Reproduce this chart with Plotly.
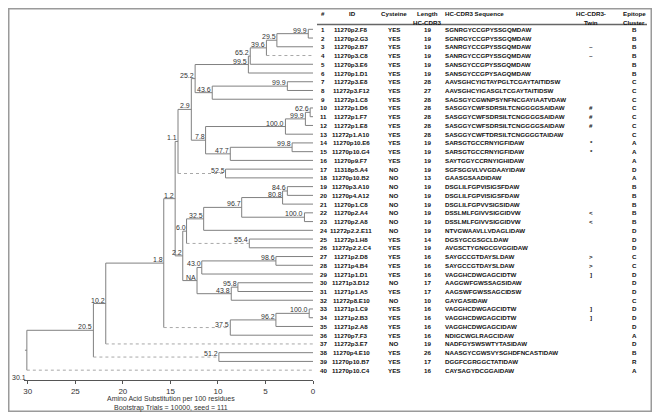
import plotly.graph_objects as go

# ---------------- data ----------------
row_ids = ["11270p2.F8", "11270p2.G3", "11270p2.B7", "11270p3.C8", "11270p3.E6", "11270p1.D1",
           "11272p3.E8", "11272p3.F12", "11272p1.C8", "11272p1.D6", "11272p1.F7", "11272p1.E8",
           "11272p1.A10", "11270p10.E6", "11270p10.G4", "11270p9.F7", "11318p5.A4", "11270p10.B2",
           "11270p3.A10", "11270p4.A12", "11270p1.C8", "11270p2.A4", "11270p2.A8", "11272p2.2.E11",
           "11272p1.H8", "11272p2.2.C4", "11271p2.D8", "11271p4.B4", "11271p1.D1", "11271p3.D12",
           "11271p1.A5", "11272p8.E10", "11271p1.C9", "11271p2.B3", "11271p2.A8", "11270p7.F3",
           "11272p3.E7", "11270p4.E10", "11270p10.B7", "11270p10.C4"]
cysteine = ["YES"] * 16 + ["NO"] * 8 + ["YES"] * 5 + ["NO", "YES", "NO"] + ["YES"] * 4 + ["NO"] + ["YES"] * 3
lengths = [19, 19, 19, 19, 19, 19, 28, 27, 28, 28, 28, 28, 28, 19, 19, 19, 19, 13, 19, 19,
           19, 19, 19, 19, 14, 19, 16, 16, 16, 17, 17, 10, 16, 16, 16, 16, 19, 26, 17, 16]
sequences = ["SGNRGYCCGPYSSGQMDAW", "SGNRGYCCGPYSSGQMDAW", "SANRGYCCGPYSSGQMDAW",
             "SANRGYCCGPYSSGQMDAW", "SANSGYCCGPYSSGQMDAW", "SANSGYCCGPYSAGQMDAW",
             "AAVSGHCYIGTAYPGLTCGAYTAITIDSW", "AAVSGHCYIGASGLTCGAYTAITIDSW",
             "SAGSGYCGWNPSYNFNCGAYIAATVDAW", "SASGGYCWFSDRSILTCNGGGGSAIDAW",
             "SASGGYCWFSDRSILTCNGGGGSAIDAW", "SASGGYCWFSDRSILTCNGGGGSAIDAW",
             "SASGGYCWFTDRSILTCNGGGGTAIDAW", "SARSGTGCCRNYIGFIDAW", "SARSGTGCCRNYIGFIDAW",
             "SAYTGGYCCRNYIGHIDAW", "SGFSGGVLVVGDAAYIDAW", "GAASGSAADIDAW",
             "DSGLILFGPVISIGSFDAW", "DSGLILFGPVISIGSFDAW", "DSGLILFGPVVSIGSIDAW",
             "DSSLMLFGIVVSIGGIDVW", "DSSLMLFGIVVSIGGIDVW", "NTVGWAAVLLVDAGLIDAW",
             "DGSYGCGSGCLDAW", "AVGSCTYGNGCGVGGIDAW", "SAYGCCGTDAYSLDAW", "SAYGCCGTDAYSLDAW",
             "VAGGHCDWGAGCIDTW", "AAGGWFGWSSAGSIDAW", "AAGSWFGWSSAGCIDSW", "GAYGASIDAW",
             "VAGGHCDWGAGCIDTW", "VAGGHCDWGAGCIDTW", "VAGGHCDWGAGCIDAW", "NDIGCWGLRAGCIDAW",
             "NADFGYSWSWTYTASIDAW", "NAASGYCGWSVYSGHDFNCASTIDAW", "DGGFCGRGGCTATIDAW",
             "CAYSAGYDCGGAIDAW"]
twins = ["", "", "~", "~", "", "", "", "", "", "#", "#", "#", "", "*", "*", "", "", "",
         "", "", "", "<", "<", "", "", "", ">", ">", "]", "", "", "", "]", "]", "", "",
         "", "", "", ""]
clusters = ["B", "B", "B", "B", "B", "B", "C", "C", "C", "C", "C", "C", "C", "A", "A", "A",
            "D", "A", "B", "B", "B", "B", "B", "D", "D", "D", "C", "C", "D", "D", "D", "C",
            "D", "D", "D", "A", "D", "B", "R", "A"]

# internal nodes: name -> (height in substitutions/100 residues, bootstrap, children)
tree_nodes = {
    "n12": (0.5, "99.9", [1, 2]),
    "n123": (3.8, "29.5", ["n12", 3]),
    "n1234": (4.9, "39.6", ["n123", 4]),
    "n1_5": (6.6, "65.2", ["n1234", 5]),
    "n1_6": (6.8, "99.5", ["n1_5", 6]),
    "n78": (2.7, "99.9", [7, 8]),
    "n7_9": (10.6, "43.6", ["n78", 9]),
    "nA": (12.4, "25.2", ["n1_6", "n7_9"]),
    "n1011": (0.3, "62.6", [10, 11]),
    "n10_12": (0.8, "99.9", ["n1011", 12]),
    "n10_13": (2.9, "100.0", ["n10_12", 13]),
    "n1415": (2.2, "99.8", [14, 15]),
    "n14_16": (8.7, "47.7", ["n1415", 16]),
    "nB": (11.3, "7.8", ["n10_13", "n14_16"]),
    "nC": (12.8, "2.9", ["nA", "nB"]),
    "n1718": (9.2, "52.5", [17, 18]),
    "nD": (14.2, "1.1", ["nC", "n1718"]),
    "n1920": (2.7, "84.6", [19, 20]),
    "n19_21": (3.2, "80.8", ["n1920", 21]),
    "n2223": (0.9, "100.0", [22, 23]),
    "n19_23": (7.5, "96.7", ["n19_21", "n2223"]),
    "n19_24": (11.5, "32.5", ["n19_23", 24]),
    "n2526": (6.7, "55.4", [25, 26]),
    "nE": (13.3, "6.0", ["n19_24", "n2526"]),
    "n2728": (3.9, "98.6", [27, 28]),
    "n27_29": (11.7, "43.0", ["n2728", 29]),
    "n3031": (7.9, "95.8", [30, 31]),
    "n30_32": (8.6, "43.8", ["n3031", 32]),
    "nF": (12.2, "NA", ["n27_29", "n30_32"]),
    "nG": (13.7, "2.2", ["nE", "nF"]),
    "nH": (14.5, "1.2", ["nD", "nG"]),
    "n3334": (0.4, "100.0", [33, 34]),
    "n33_35": (3.9, "96.2", ["n3334", 35]),
    "n33_36": (8.7, "37.5", ["n33_35", 36]),
    "nI": (15.7, "1.8", ["nH", "n33_36"]),
    "nJ": (21.8, "10.2", ["nI", 37]),
    "n3839": (9.9, "51.2", [38, 39]),
    "nK": (23.1, "20.5", ["nJ", "n3839"]),
    "root": (30.1, "30.1", ["nK", 40]),
}
dotted_branches = {4, "n1718", "n2526", "n33_36", 37, "n3839", 40}

x_tickvals = [30, 25, 20, 15, 10, 5, 0]
x_title = ["Amino Acid Substitution per 100 residues", "Bootstrap Trials = 10000, seed = 111"]

# ---------------- layout constants (window pixels) ----------------
OFF = 8                      # page body margin
W, H = 660 - 2 * OFF, 420 - 2 * OFF
L, R_EDGE, TOP, BOTTOM = 24, 313, OFF, 380
PW, PH = R_EDGE - L, BOTTOM - TOP
ROW0, ROWSTEP = 29.3, 8.74


def rp(py):  # window pixel y -> row coordinate
    return 1 + (py - ROW0) / ROWSTEP


def xp(px):  # window pixel x -> paper x
    return (px - L) / PW


def ypp(py):  # window pixel y -> paper y
    return (BOTTOM - py) / PH


def height(c):
    return 0.0 if isinstance(c, int) else tree_nodes[c][0]


ycache = {}


def ypos(c):
    if isinstance(c, int):
        return float(c)
    if c not in ycache:
        ch = tree_nodes[c][2]
        ycache[c] = sum(ypos(k) for k in ch) / len(ch)
    return ycache[c]


solid_x, solid_y, dot_x, dot_y = [], [], [], []
for name, (h, lab, ch) in tree_nodes.items():
    ys = [ypos(k) for k in ch]
    solid_x += [h, h, None]
    solid_y += [min(ys), max(ys), None]
    for k in ch:
        tx, ty = (dot_x, dot_y) if k in dotted_branches else (solid_x, solid_y)
        tx += [h, height(k), None]
        ty += [ypos(k), ypos(k), None]
solid_x += [tree_nodes["root"][0], 30.3, None]
solid_y += [ypos("root"), ypos("root"), None]

fig = go.Figure()
fig.add_trace(go.Scatter(x=solid_x, y=solid_y, mode="lines", cliponaxis=False,
                         line=dict(color="#808080", width=1), hoverinfo="skip", showlegend=False))
fig.add_trace(go.Scatter(x=dot_x, y=dot_y, mode="lines", cliponaxis=False,
                         line=dict(color="#a8a8a8", width=1, dash="dot"), hoverinfo="skip",
                         showlegend=False))

ann = []
lab_font = dict(family="Arial, Liberation Sans, sans-serif", size=7, color="#333333")
for name, (h, lab, ch) in tree_nodes.items():
    if name == "root":
        continue
    ann.append(dict(x=h, y=ypos(name), xref="x", yref="y", text=lab, showarrow=False,
                    xanchor="right", yanchor="bottom", yshift=-1, font=lab_font,
                    borderpad=0))
ann.append(dict(x=xp(27), y=ypp(377), xref="paper", yref="paper", text=tree_nodes["root"][1],
                showarrow=False, xanchor="right", yanchor="middle", font=lab_font, borderpad=0))

for i, t in enumerate(x_title):
    ann.append(dict(x=xp(171), y=ypp(398.5 + 9 * i), xref="paper", yref="paper", text=t,
                    showarrow=False, xanchor="center", yanchor="middle", font=lab_font,
                    borderpad=0))

tfont = dict(family="Arial, Liberation Sans, sans-serif", size=6.2, color="#111111", weight="bold")


def esc(s):
    return s.replace("&", "&amp;").replace("<", "&lt;").replace(">", "&gt;")


def cell(px, row, text, anchor="center"):
    ann.append(dict(x=xp(px), y=row, xref="paper", yref="y", text=esc(str(text)),
                    showarrow=False, xanchor=anchor, yanchor="middle", font=tfont, borderpad=0))


hy1, hy2 = rp(13), rp(22.5)
cell(323, hy1, "#")
cell(352, hy1, "ID")
cell(394, hy1, "Cysteine")
cell(427, hy1, "Length")
cell(427, hy2, "HC-CDR3")
cell(444, hy1, "HC-CDR3 Sequence", "left")
cell(591, hy1, "HC-CDR3-")
cell(591, hy2, "Twin")
cell(634, hy1, "Epitope")
cell(634, hy2, "Cluster")

for i in range(len(row_ids)):
    r = i + 1
    cell(323, r, r)
    cell(351, r, row_ids[i])
    cell(393.5, r, cysteine[i])
    cell(427, r, lengths[i])
    cell(444, r, sequences[i], "left")
    if twins[i]:
        cell(591, r, twins[i])
    cell(634, r, clusters[i])

shapes = [
    dict(type="line", xref="paper", yref="y", x0=xp(317), x1=xp(647), y0=rp(24.5), y1=rp(24.5),
         line=dict(color="#666666", width=1.5)),
    dict(type="rect", xref="paper", yref="paper", x0=xp(OFF + 0.75), x1=xp(OFF + W - 0.75),
         y0=ypp(OFF + H - 0.75), y1=ypp(OFF + 0.75),
         line=dict(color="#9a9a9a", width=1.5)),
]

fig.update_layout(
    width=W, height=H,
    margin=dict(l=L - OFF, r=(OFF + W) - R_EDGE, t=TOP - OFF, b=(OFF + H) - BOTTOM),
    paper_bgcolor="white", plot_bgcolor="white",
    annotations=ann, shapes=shapes,
    xaxis=dict(range=[30.4, 0], tickvals=x_tickvals, ticks="outside", ticklen=3,
               tickcolor="#555555", showline=True, linecolor="#555555", linewidth=1,
               showgrid=False, zeroline=False, fixedrange=True,
               tickfont=dict(family="Arial, Liberation Sans, sans-serif", size=8, color="#333333")),
    yaxis=dict(range=[rp(BOTTOM), rp(TOP)], visible=False, fixedrange=True),
)

fig.write_html("out.html")
